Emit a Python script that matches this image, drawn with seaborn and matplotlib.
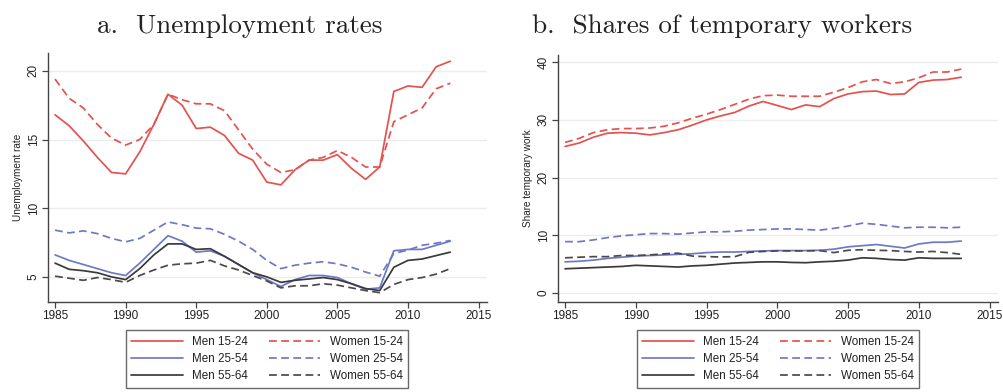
import matplotlib
matplotlib.use("Agg")
import matplotlib.pyplot as plt
import numpy as np
import pandas as pd
import seaborn as sns

# ---------------- data ----------------
years = list(range(1985, 2014))
series_labels = ["Men 15-24", "Men 25-54", "Men 55-64",
                 "Women 15-24", "Women 25-54", "Women 55-64"]

# a. Unemployment rates
unemp_men_15_24 = [16.8, 16.0, 14.9, 13.7, 12.6, 12.5, 14.1, 16.1, 18.3, 17.5,
                   15.8, 15.9, 15.3, 14.0, 13.5, 11.9, 11.7, 12.8, 13.5, 13.5,
                   13.9, 12.9, 12.1, 13.0, 18.5, 18.9, 18.8, 20.3, 20.7]
unemp_women_15_24 = [19.4, 18.0, 17.3, 16.1, 15.1, 14.6, 15.0, 16.1, 18.3, 17.9,
                     17.6, 17.6, 17.1, 15.7, 14.3, 13.2, 12.6, 12.8, 13.5, 13.7,
                     14.2, 13.7, 13.0, 13.0, 16.3, 16.8, 17.3, 18.7, 19.1]
unemp_men_25_54 = [6.6, 6.2, 5.9, 5.6, 5.3, 5.1, 6.0, 7.0, 8.0, 7.6,
                   6.8, 6.9, 6.5, 5.9, 5.3, 4.8, 4.3, 4.8, 5.1, 5.1,
                   4.95, 4.5, 4.1, 4.2, 6.9, 7.0, 7.0, 7.3, 7.6]
unemp_women_25_54 = [8.4, 8.2, 8.35, 8.15, 7.8, 7.55, 7.8, 8.4, 9.0, 8.8,
                     8.55, 8.5, 8.1, 7.6, 7.0, 6.2, 5.6, 5.85, 6.0, 6.1,
                     5.95, 5.7, 5.35, 5.05, 6.7, 6.95, 7.3, 7.45, 7.65]
unemp_men_55_64 = [6.0, 5.55, 5.45, 5.3, 5.0, 4.8, 5.6, 6.6, 7.4, 7.4,
                   7.0, 7.05, 6.5, 5.9, 5.3, 5.0, 4.6, 4.75, 4.85, 4.95,
                   4.8, 4.5, 4.15, 4.0, 5.7, 6.2, 6.3, 6.55, 6.8]
unemp_women_55_64 = [5.05, 4.9, 4.75, 4.95, 4.8, 4.6, 5.1, 5.5, 5.85, 5.95,
                     6.0, 6.2, 5.8, 5.5, 5.1, 4.7, 4.2, 4.35, 4.35, 4.5,
                     4.4, 4.2, 4.0, 3.85, 4.45, 4.8, 4.95, 5.2, 5.6]

# b. Shares of temporary workers
temp_men_15_24 = [25.4, 26.0, 27.0, 27.7, 27.8, 27.7, 27.4, 27.8, 28.3, 29.1,
                  30.0, 30.7, 31.3, 32.4, 33.2, 32.5, 31.8, 32.6, 32.3, 33.7,
                  34.5, 34.9, 35.0, 34.4, 34.5, 36.5, 36.9, 37.0, 37.4]
temp_women_15_24 = [26.1, 26.8, 27.8, 28.3, 28.5, 28.5, 28.6, 28.9, 29.5, 30.3,
                    31.0, 31.8, 32.7, 33.6, 34.2, 34.3, 34.1, 34.1, 34.1, 34.8,
                    35.6, 36.6, 37.0, 36.3, 36.6, 37.3, 38.3, 38.3, 38.8]
temp_men_25_54 = [5.4, 5.5, 5.7, 6.0, 6.2, 6.4, 6.5, 6.6, 6.7, 6.8,
                  7.0, 7.1, 7.1, 7.2, 7.3, 7.35, 7.35, 7.35, 7.4, 7.6,
                  8.0, 8.2, 8.4, 8.1, 7.8, 8.5, 8.8, 8.8, 9.0]
temp_women_25_54 = [8.9, 8.9, 9.2, 9.6, 9.9, 10.1, 10.3, 10.3, 10.2, 10.4,
                    10.6, 10.6, 10.7, 10.9, 11.0, 11.1, 11.1, 11.0, 10.9, 11.2,
                    11.6, 12.1, 11.9, 11.6, 11.3, 11.4, 11.4, 11.3, 11.4]
temp_men_55_64 = [4.2, 4.3, 4.4, 4.5, 4.6, 4.8, 4.7, 4.6, 4.5, 4.7,
                  4.8, 5.0, 5.2, 5.3, 5.4, 5.4, 5.3, 5.25, 5.4, 5.5,
                  5.7, 6.1, 6.0, 5.8, 5.7, 6.1, 6.0, 6.0, 6.0]
temp_women_55_64 = [6.1, 6.2, 6.3, 6.3, 6.5, 6.5, 6.6, 6.8, 6.9, 6.4,
                    6.3, 6.25, 6.3, 7.05, 7.2, 7.3, 7.3, 7.3, 7.35, 7.0,
                    7.4, 7.5, 7.4, 7.35, 7.2, 7.1, 7.2, 7.0, 6.7]

unemp_series = [unemp_men_15_24, unemp_men_25_54, unemp_men_55_64,
                unemp_women_15_24, unemp_women_25_54, unemp_women_55_64]
temp_series = [temp_men_15_24, temp_men_25_54, temp_men_55_64,
               temp_women_15_24, temp_women_25_54, temp_women_55_64]

x_ticks = [1985, 1990, 1995, 2000, 2005, 2010, 2015]
unemp_yticks = [5, 10, 15, 20]
temp_yticks = [0, 10, 20, 30, 40]

# ---------------- style ----------------
sns.set_theme(style="white")
plt.rcParams['font.family'] = ['Liberation Sans', 'DejaVu Sans']

colors = ["#e4524e", "#6f78c6", "#3a3a3a", "#e4524e", "#6f78c6", "#4a4a4a"]
dash = (0, (4.5, 2.5))
styles = ["-", "-", "-", dash, dash, dash]

fig = plt.figure(figsize=(10.04, 3.92), dpi=100)
W, H = 1004.0, 392.0
ax1 = fig.add_axes([48 / W, 1 - 302 / H, (487 - 48) / W, (302 - 53) / H])
ax2 = fig.add_axes([558 / W, 1 - 302 / H, (998 - 558) / W, (302 - 55) / H])


def draw(ax, series, yticks, ylim, ylabel):
    for vals, lab, c, ls in zip(series, series_labels, colors, styles):
        df = pd.DataFrame({"year": years, "value": vals})
        sns.lineplot(data=df, x="year", y="value", ax=ax, color=c,
                     linestyle=ls, linewidth=1.25, label=lab, legend=False)
    ax.set_xlim(1984.5, 2015.6)
    ax.set_ylim(*ylim)
    ax.set_xticks(x_ticks)
    ax.set_yticks(yticks)
    ax.set_xticklabels([str(t) for t in x_ticks], fontsize=8.5, color="#222222")
    ax.set_yticklabels([str(t) for t in yticks], fontsize=8.5, color="#222222",
                       rotation=90, va="center")
    ax.set_xlabel("")
    ax.set_ylabel(ylabel, fontsize=7.2, color="#222222", labelpad=3)
    ax.grid(axis="y", color="#ececec", linewidth=1.0)
    ax.grid(axis="x", visible=False)
    for s in ["top", "right"]:
        ax.spines[s].set_visible(False)
    for s in ["left", "bottom"]:
        ax.spines[s].set_color("#444444")
        ax.spines[s].set_linewidth(1.0)
    ax.tick_params(axis="both", direction="out", length=4, width=0.9,
                   color="#444444", pad=2, bottom=True, left=True)
    ax.set_facecolor("white")


draw(ax1, unemp_series, unemp_yticks, (3.17, 21.3), "Unemployment rate")
draw(ax2, temp_series, temp_yticks, (-1.56, 41.25), "Share temporary work")

# titles
fig.text(240 / W, 1 - 33 / H, "a.  Unemployment rates", family="cmr10",
         fontsize=19.5, ha="center", va="baseline", color="#222222")
fig.text(722 / W, 1 - 33 / H, "b.  Shares of temporary workers", family="cmr10",
         fontsize=19.5, ha="center", va="baseline", color="#222222")

# legends
for ax, cx in [(ax1, 267), (ax2, 778)]:
    h, l = ax.get_legend_handles_labels()
    leg = ax.legend(h, l, ncol=2, loc="center",
                    bbox_to_anchor=(cx / W, 1 - 359 / H),
                    bbox_transform=fig.transFigure, fontsize=8.4,
                    frameon=True, fancybox=False, edgecolor="#444444",
                    handlelength=4.4, columnspacing=1.8, labelspacing=0.45,
                    borderpad=0.5, handletextpad=0.8)
    leg.get_frame().set_linewidth(1.0)
    for t in leg.get_texts():
        t.set_color("#222222")

fig.savefig("out.png", dpi=100, facecolor="white")
